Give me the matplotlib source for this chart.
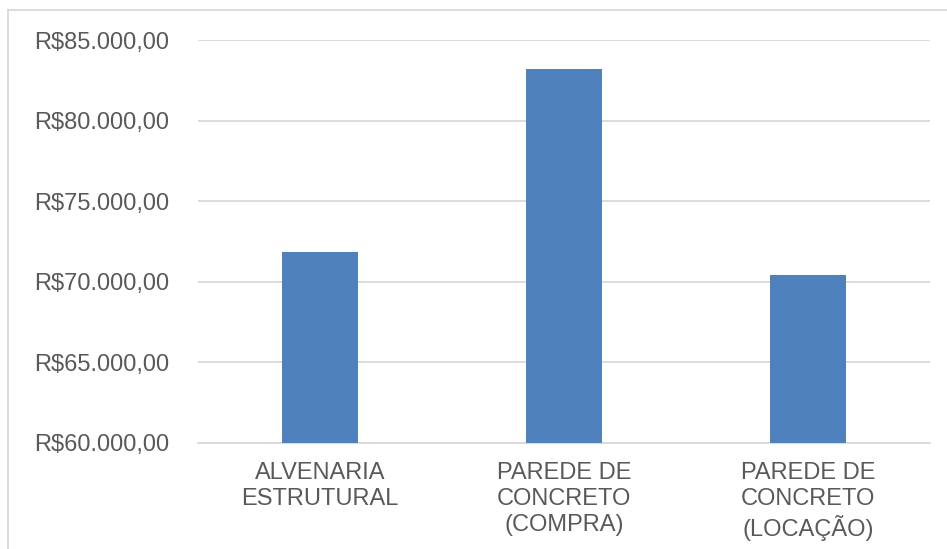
import matplotlib.pyplot as plt
from matplotlib.lines import Line2D

# data
categories = ["ALVENARIA\nESTRUTURAL", "PAREDE DE\nCONCRETO\n(COMPRA)", "PAREDE DE\nCONCRETO\n(LOCAÇÃO)"]
costs = [71840, 83180, 70400]
yticks = [60000, 65000, 70000, 75000, 80000, 85000]
ytick_labels = ["R$60.000,00", "R$65.000,00", "R$70.000,00", "R$75.000,00", "R$80.000,00", "R$85.000,00"]

plt.rcParams["font.family"] = ["Liberation Sans", "DejaVu Sans"]
text_color = "#595959"
grid_color = "#d9d9d9"

fig = plt.figure(figsize=(9.47, 5.49), dpi=100)
ax = fig.add_axes([0.209, 0.1934, 0.773, 0.7337])

x = range(len(categories))
ax.bar(x, costs, width=0.313, color="#4f81bd", zorder=3)

ax.set_ylim(60000, 85000)
ax.set_xlim(-0.5, len(categories) - 0.5)
ax.set_yticks(yticks)
ax.set_yticklabels(ytick_labels)
ax.set_xticks(list(x))
ax.set_xticklabels(categories, linespacing=1.22)

ax.yaxis.grid(True, color=grid_color, linewidth=1.3, zorder=0)
ax.tick_params(axis="y", length=0, pad=21, labelsize=17, labelcolor=text_color)
ax.tick_params(axis="x", length=0, pad=14, labelsize=17, labelcolor=text_color)

for side in ["top", "right", "left"]:
    ax.spines[side].set_visible(False)
ax.spines["bottom"].set_color(grid_color)
ax.spines["bottom"].set_linewidth(1.3)

# chart area border (only top and left edges visible in the crop)
fig.add_artist(Line2D([8 / 947, 1], [1 - 10 / 549, 1 - 10 / 549], transform=fig.transFigure, color=grid_color, linewidth=1.3))
fig.add_artist(Line2D([8 / 947, 8 / 947], [0, 1 - 10 / 549], transform=fig.transFigure, color=grid_color, linewidth=1.3))

fig.savefig("out.png", dpi=100)
